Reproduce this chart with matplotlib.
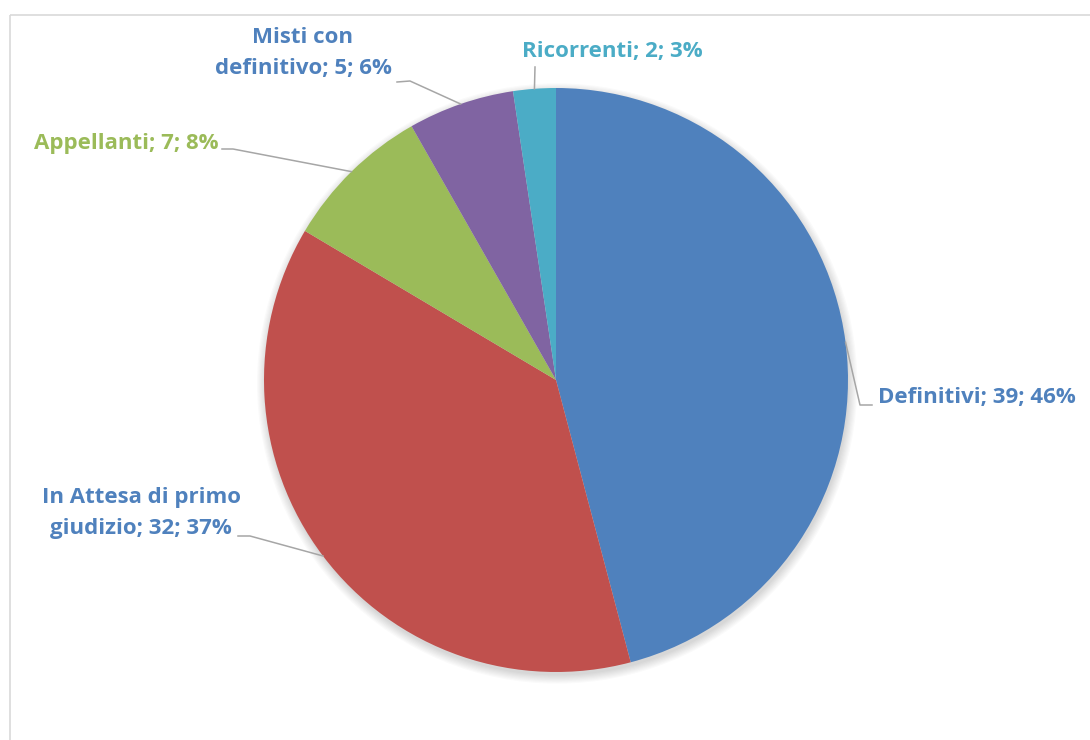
import numpy as np
import matplotlib
matplotlib.use("Agg")
import matplotlib.pyplot as plt
from matplotlib.patches import Rectangle, Circle

categories = ["Definitivi", "In Attesa di primo\ngiudizio", "Appellanti",
              "Misti con\ndefinitivo", "Ricorrenti"]
values = [39, 32, 7, 5, 2]
percent_labels = [46, 37, 8, 6, 3]
slice_colors = ["#4F81BD", "#C0504D", "#9BBB59", "#8064A2", "#4BACC6"]
label_colors = ["#4F81BD", "#4F81BD", "#9BBB59", "#4F81BD", "#4BACC6"]

W, H = 1090, 740
CX, CY, R = 556, 380, 292

def px(x, y):
    return ((x - CX) / R, (CY - y) / R)

fig = plt.figure(figsize=(W / 100, H / 100), dpi=100)
ax = fig.add_axes([0, 0, 1, 1])

# border of chart area
fig.patches.append(Rectangle((9.5 / W, 1 - 14.5 / H), 2, -2, transform=fig.transFigure,
                             fill=False, edgecolor="#D9D9D9", lw=1.2))

# soft shadow
for k in range(8):
    ax.add_patch(Circle((0.004, -0.012), 1.0 + 0.004 * k, color="black",
                        alpha=0.018, lw=0, zorder=1))

wedges, _ = ax.pie(values, colors=slice_colors, startangle=90, counterclock=False,
                   radius=1.0, wedgeprops=dict(linewidth=0))
for w in wedges:
    w.set_zorder(3)

ax.set_xlim(-CX / R, (W - CX) / R)
ax.set_ylim(-(H - CY) / R, CY / R)
ax.set_aspect("equal")
ax.axis("off")

# label layout (pixel positions): text anchor, alignment, elbow points
layout = [
    dict(t=(878, 398), ha="left", elbow=[(860, 405), (872, 405)]),
    dict(t=(141, 513), ha="center", elbow=[(250, 536), (238, 536)]),
    dict(t=(218, 143), ha="right", elbow=[(233, 149), (222, 149)]),
    dict(t=(303, 53), ha="center", elbow=[(410, 81), (397, 82)]),
    dict(t=(612, 51), ha="center", elbow=[(535, 67)]),
]

font = ["Open Sans", "DejaVu Sans"]
for w, cat, v, p, col, lay in zip(wedges, categories, values, percent_labels,
                                  label_colors, layout):
    ang = np.deg2rad((w.theta1 + w.theta2) / 2)
    sx, sy = np.cos(ang), np.sin(ang)
    pts = [(sx, sy)] + [px(*e) for e in lay["elbow"]]
    xs, ys = zip(*pts)
    ax.plot(xs, ys, color="#A6A6A6", lw=1.1, zorder=4)
    tx, ty = px(*lay["t"])
    ax.text(tx, ty, f"{cat}; {v}; {p}%", ha=lay["ha"], va="center",
            color=col, fontsize=16, fontweight="bold", family=font,
            multialignment="center", linespacing=1.6, zorder=5)

fig.savefig("out.png", dpi=100)
